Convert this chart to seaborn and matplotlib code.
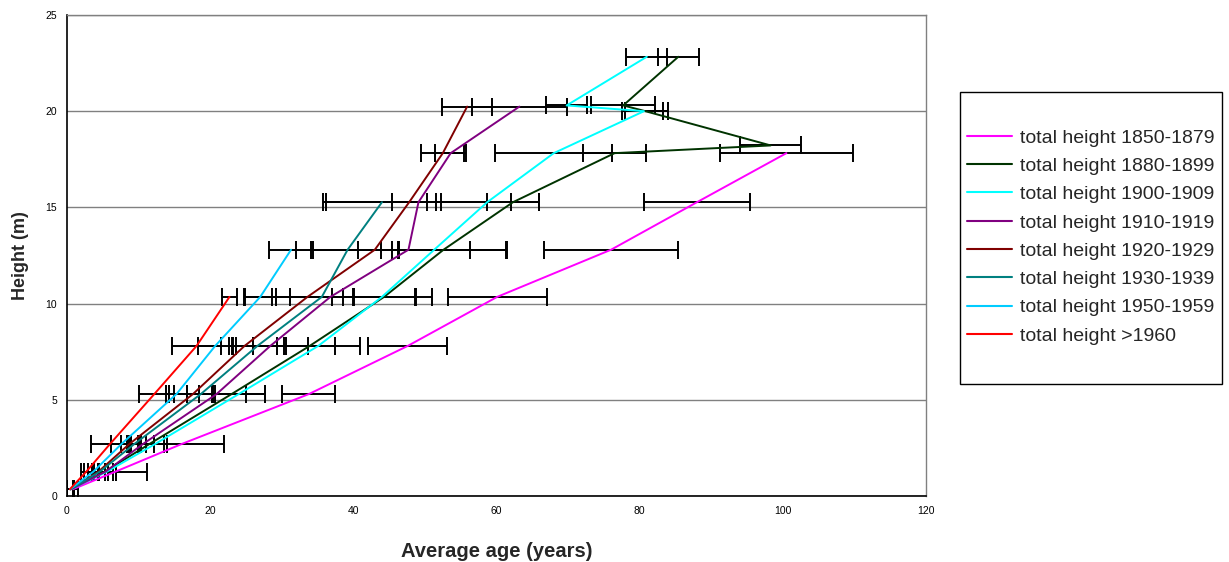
import matplotlib
matplotlib.use('Agg')
import matplotlib.pyplot as plt
from matplotlib.patches import Rectangle
import seaborn as sns
import pandas as pd

# ---------------- data ----------------
series_labels = ["total height 1850-1879", "total height 1880-1899", "total height 1900-1909",
                 "total height 1910-1919", "total height 1920-1929", "total height 1930-1939",
                 "total height 1950-1959", "total height >1960"]
series_colors = ["#FF00FF", "#003300", "#00FFFF", "#800080", "#800000", "#008080", "#00CCFF", "#FF0000"]

h_1850 = [0.35, 1.27, 2.7, 5.3, 7.8, 10.35, 12.8, 15.27, 17.82]
a_1850 = [0.8, 6.8, 16.0, 33.8, 47.6, 60.1, 76.0, 88.0, 100.5]
s_1850 = [0.8, 4.4, 6.0, 3.7, 5.5, 6.9, 9.4, 7.4, 9.3]

h_1880 = [0.35, 1.27, 2.7, 5.3, 7.8, 10.35, 12.8, 15.27, 17.82, 18.22, 20.0, 20.3, 22.83]
a_1880 = [0.5, 5.3, 11.5, 23.0, 33.9, 44.3, 52.6, 62.3, 76.5, 98.3, 80.8, 77.7, 85.4]
s_1880 = [0.5, 1.5, 2.5, 4.6, 3.6, 4.3, 8.8, 3.6, 4.4, 4.3, 3.2, 4.5, 2.85]

h_1900 = [0.35, 1.27, 2.7, 5.3, 7.8, 10.35, 12.8, 15.27, 17.82, 20.0, 20.3, 22.83]
a_1900 = [0.5, 5.6, 12.3, 24.0, 35.1, 44.0, 51.3, 58.7, 68.0, 80.6, 69.8, 81.0]
s_1900 = [0.5, 1.2, 1.3, 3.6, 5.8, 7.0, 5.0, 7.2, 8.2, 2.6, 2.85, 2.85]

h_1910 = [0.35, 1.27, 2.7, 5.3, 7.8, 10.35, 12.8, 15.27, 17.82, 20.24]
a_1910 = [0.5, 5.4, 10.6, 20.9, 28.4, 36.8, 47.7, 49.1, 53.6, 63.2]
s_1910 = [0.5, 1.0, 1.6, 4.1, 5.2, 12.0, 13.6, 12.9, 2.2, 6.6]

h_1920 = [0.35, 1.27, 2.7, 5.3, 7.8, 10.35, 12.8, 15.27, 17.82, 20.24]
a_1920 = [0.5, 4.4, 8.7, 17.6, 24.8, 33.6, 43.0, 47.8, 52.5, 55.9]
s_1920 = [0.5, 0.9, 1.2, 2.7, 1.2, 5.0, 2.4, 2.45, 3.0, 3.5]

h_1930 = [0.35, 1.27, 2.7, 5.3, 7.8, 10.35, 12.8, 15.27]
a_1930 = [0.5, 4.6, 9.4, 18.7, 26.6, 35.6, 39.2, 44.0]
s_1930 = [0.5, 1.1, 1.0, 2.0, 4.0, 4.5, 7.2, 8.2]

h_1950 = [0.35, 1.27, 2.7, 5.3, 7.8, 10.35, 12.8]
a_1950 = [0.4, 3.7, 7.6, 15.3, 20.7, 27.0, 31.3]
s_1950 = [0.4, 0.8, 1.4, 1.45, 2.4, 2.25, 3.05]

h_1960 = [0.35, 1.27, 2.7, 5.3, 7.8, 10.35]
a_1960 = [0.4, 2.7, 6.0, 12.2, 18.1, 22.7]
s_1960 = [0.4, 0.8, 2.7, 2.1, 3.4, 1.0]

x_ticks = [0, 20, 40, 60, 80, 100, 120]
y_ticks = [0, 5, 10, 15, 20, 25]

heights = [h_1850, h_1880, h_1900, h_1910, h_1920, h_1930, h_1950, h_1960]
ages = [a_1850, a_1880, a_1900, a_1910, a_1920, a_1930, a_1950, a_1960]
sds = [s_1850, s_1880, s_1900, s_1910, s_1920, s_1930, s_1950, s_1960]

rows = []
for lab, hh, aa, ss in zip(series_labels, heights, ages, sds):
    for i, (h, a, s) in enumerate(zip(hh, aa, ss)):
        rows.append({"series": lab, "height": h, "age": a, "sd": s, "order": i})
df = pd.DataFrame(rows)

# ---------------- plot ----------------
sns.set_theme(style="white")
plt.rcParams['font.family'] = ['Liberation Sans', 'DejaVu Sans']

W, H = 1229, 562
fig = plt.figure(figsize=(W / 100, H / 100), dpi=100)
ax = fig.add_axes([67 / W, 1 - 496 / H, (926 - 67) / W, (496 - 15) / H])

for lab in series_labels:
    sub = df[df.series == lab]
    ax.errorbar(sub.age, sub.height, xerr=sub.sd, fmt='none', ecolor='black',
                elinewidth=1.4, capsize=6.5, capthick=1.4, zorder=2)

palette = dict(zip(series_labels, series_colors))
sns.lineplot(data=df, x="age", y="height", hue="series", hue_order=series_labels,
             palette=palette, sort=False, estimator=None, linewidth=1.4, ax=ax, zorder=3)

ax.set_xlim(0, 120)
ax.set_ylim(0, 25)
ax.set_xticks(x_ticks)
ax.set_yticks(y_ticks)
ax.tick_params(axis='both', direction='out', length=4, width=1, labelsize=7.5,
               colors='black', pad=3)
ax.yaxis.grid(True, color='#808080', linewidth=1)
ax.xaxis.grid(False)
for s in ['left', 'bottom']:
    ax.spines[s].set_color('black')
    ax.spines[s].set_linewidth(1.2)
for s in ['top', 'right']:
    ax.spines[s].set_color('#808080')
    ax.spines[s].set_linewidth(1)
ax.set_facecolor('white')

ax.set_xlabel("Average age (years)", fontsize=14.5, fontweight='bold')
ax.set_ylabel("Height (m)", fontsize=13, fontweight='bold')
ax.xaxis.set_label_coords(0.5, -0.096)
ax.yaxis.set_label_coords(-0.044, 0.5)

handles, labels = ax.get_legend_handles_labels()
ax.get_legend().remove()

# legend box (frame drawn separately to get Excel-like padding)
fig.patches.append(Rectangle((960 / W, 1 - 384 / H), (1222 - 960) / W, (384 - 92) / H,
                             transform=fig.transFigure, facecolor='white',
                             edgecolor='black', linewidth=1, zorder=0))
leg = fig.legend(handles, labels, loc='upper left', bbox_to_anchor=(967 / W, 1 - 129 / H),
                 frameon=False, fontsize=14, handlelength=2.3, handletextpad=0.4,
                 labelspacing=0.55, borderpad=0, borderaxespad=0)
for lh in leg.get_lines():
    lh.set_linewidth(1.5)

fig.savefig("out.png", dpi=100, facecolor='white')
